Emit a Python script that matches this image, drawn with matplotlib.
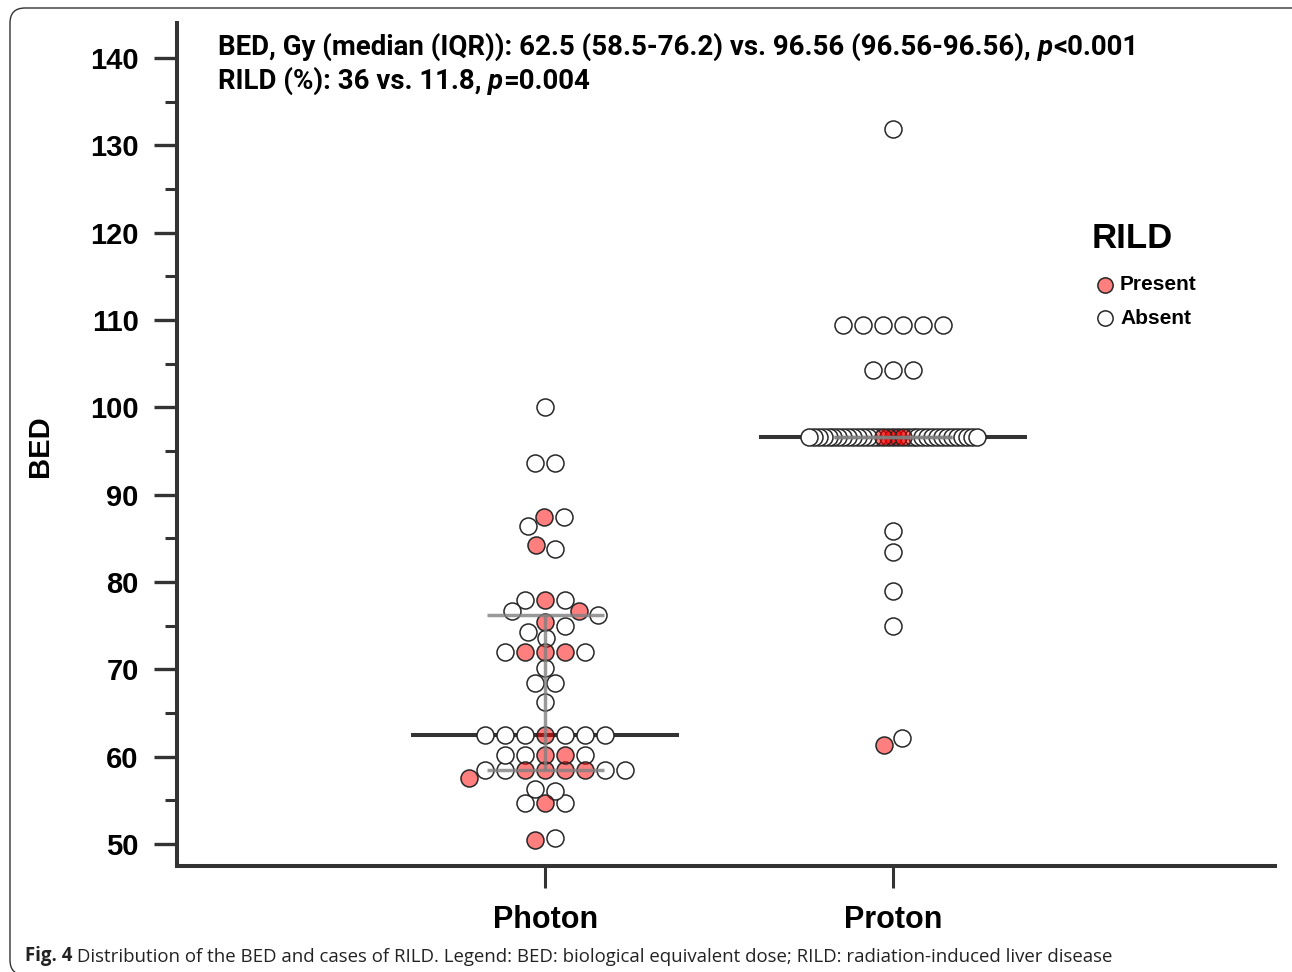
import numpy as np
import matplotlib
matplotlib.use("Agg")
import matplotlib.pyplot as plt
import matplotlib.patches as mpatches
from matplotlib.lines import Line2D
from matplotlib.ticker import MultipleLocator
from matplotlib.transforms import IdentityTransform

plt.rcParams['font.family'] = ['Liberation Sans', 'DejaVu Sans']

# ---- data ----
groups = ['Photon', 'Proton']

photon_present = [87.4, 84.3, 77.9, 76.7, 75.4, 72.0, 72.0, 72.0, 62.5, 60.2, 60.2,
                  58.5, 58.5, 58.5, 58.5, 57.6, 54.7, 50.5]
photon_absent = [100.0, 93.6, 93.6, 87.4, 86.4, 83.8, 77.9, 77.9, 76.7, 76.2, 75.0,
                 74.3, 73.6, 72.0, 72.0, 70.2, 68.5, 68.5, 66.3,
                 62.5, 62.5, 62.5, 62.5, 62.5, 62.5, 60.2, 60.2, 60.2,
                 58.5, 58.5, 58.5, 58.5, 56.1, 56.3, 54.7, 54.7, 50.7]

proton_present = [96.56] * 5 + [61.4]
proton_absent = ([131.9] + [109.4] * 6 + [104.3] * 3 + [96.56] * 30
                 + [85.8, 83.4, 79.0, 75.0, 62.1])

# median, q1, q3 (from the annotation)
medians = [62.5, 96.56]
q1 = [58.5, 96.56]
q3 = [76.2, 96.56]

stat_line1 = ["BED, Gy (median (IQR)): 62.5 (58.5-76.2) vs. 96.56 (96.56-96.56), ", "p", "<0.001"]
stat_line2 = ["RILD (%): 36 vs. 11.8, ", "p", "=0.004"]
legend_title = 'RILD'
legend_labels = ['Present', 'Absent']

RED = (1.0, 0.0, 0.0, 0.5)
WHITE = (1.0, 1.0, 1.0, 1.0)
EDGE = '#262626'
DARK = '#333333'

W, H = 1292, 972
fig = plt.figure(figsize=(W / 100, H / 100), dpi=100)
ax = fig.add_axes([177 / W, 1 - 866 / H, (1275 - 177) / W, (866 - 23) / H])
ax.set_xlim(-1.06, 2.10)
ax.set_ylim(47.5, 144)


def collides(c, y, xs, ys, dx_min, dy_min):
    for px, py in zip(xs, ys):
        if ((c - px) / dx_min) ** 2 + ((y - py) / dy_min) ** 2 < 1 - 1e-6:
            return True
    return False


def try_center(m, xoff, ypx, dx_min, dy_min):
    shift = -xoff[m].mean()
    if abs(shift) < 1e-6:
        return
    others = ~m
    new = xoff[m] + shift
    if not any(collides(c, y, xoff[others], ypx[others], dx_min, dy_min)
               for c, y in zip(new, ypx[m])):
        xoff[m] = new


def swarm(values, red, center, dx_min=20.0, dy_min=14.0, max_half_px=None):
    """greedy beeswarm in pixel space (elliptic spacing), returns x in data units"""
    vals = np.asarray(values, dtype=float)
    red = np.asarray(red, dtype=bool)
    ypx = ax.transData.transform(np.column_stack([np.full(len(vals), center), vals]))[:, 1]
    x_unit = ax.transData.transform([(1, 0)])[0, 0] - ax.transData.transform([(0, 0)])[0, 0]
    counts = np.array([np.sum(vals == v) for v in vals])
    order = np.lexsort((vals, ~red, -counts))
    xoff = np.full(len(vals), np.nan)
    done = []
    for i in order:
        xs = [xoff[j] for j in done]
        ys = [ypx[j] for j in done]
        cands = [0.0]
        for px, py in zip(xs, ys):
            t = 1 - ((ypx[i] - py) / dy_min) ** 2
            if t > 0:
                d = dx_min * np.sqrt(t)
                cands += [px + d, px - d]
        cands = sorted(cands, key=lambda c: (round(abs(c), 6), -c))
        for c in cands:
            if not collides(c, ypx[i], xs, ys, dx_min, dy_min):
                break
        xoff[i] = c
        done.append(i)
    # centre groups of tied values when there is room
    uniq = np.unique(vals)
    for v in uniq:
        try_center(vals == v, xoff, ypx, dx_min, dy_min)
    # centre small rows of nearly equal values
    clusters, cur = [], [uniq[0]]
    for a, b in zip(uniq[:-1], uniq[1:]):
        if b - a <= 1.0:
            cur.append(b)
        else:
            clusters.append(cur)
            cur = [b]
    clusters.append(cur)
    for cl in clusters:
        m = np.isin(vals, cl)
        if len(cl) > 1 and m.sum() <= 3:
            try_center(m, xoff, ypx, dx_min, dy_min)
    # squeeze groups of tied values that get too wide
    if max_half_px is not None:
        for v in uniq:
            m = vals == v
            span = np.abs(xoff[m]).max()
            if span > max_half_px:
                xoff[m] *= max_half_px / span
    return center + xoff / x_unit, order


data = [(photon_present, photon_absent), (proton_present, proton_absent)]
for k, (pres, absn) in enumerate(data):
    vals = np.array(pres + absn)
    red = np.array([True] * len(pres) + [False] * len(absn))
    xs, order = swarm(vals, red, k, max_half_px=84)
    white_order = [i for i in order if not red[i]]
    red_order = [i for i in order if red[i]]
    ax.scatter(xs[white_order], vals[white_order], s=150, facecolors=[WHITE],
               edgecolors=EDGE, linewidths=1.1, zorder=3)
    ax.scatter(xs[red_order], vals[red_order], s=150, facecolors=[RED],
               edgecolors=EDGE, linewidths=1.1, zorder=3)

    # median
    ax.plot([k - 0.386, k + 0.386], [medians[k], medians[k]], color=DARK,
            lw=2.9, zorder=2, solid_capstyle='butt')
    # IQR
    for yv in (q1[k], q3[k]):
        ax.plot([k - 0.169, k + 0.169], [yv, yv], color='#808080', lw=2.5,
                alpha=0.8, zorder=4, solid_capstyle='butt')
    ax.plot([k, k], [q1[k], q3[k]], color='#808080', lw=2.5, alpha=0.8,
            zorder=4, solid_capstyle='butt')

# axes styling
for s in ['top', 'right']:
    ax.spines[s].set_visible(False)
for s in ['left', 'bottom']:
    ax.spines[s].set_linewidth(2.9)
    ax.spines[s].set_color(DARK)

ax.set_yticks(np.arange(50, 141, 10))
ax.yaxis.set_minor_locator(MultipleLocator(5))
ax.tick_params(axis='y', which='major', length=16.5, width=2.4, color=DARK,
               pad=11, labelsize=21)
ax.tick_params(axis='y', which='minor', length=8.6, width=2.2, color=DARK)
ax.set_xticks([0, 1])
ax.set_xticklabels(groups)
ax.tick_params(axis='x', which='major', length=16, width=2.2, color=DARK,
               pad=12, labelsize=22)
for lab in ax.get_xticklabels() + ax.get_yticklabels():
    lab.set_fontweight('bold')

fig.text(40 / W, 1 - 446 / H, 'BED', rotation=90, fontsize=21,
         fontweight='bold', ha='center', va='center')

# annotation with italic p
cond = ['Roboto', 'DejaVu Sans']


def rich_line(pieces, x, y):
    prev = None
    for piece in pieces:
        style = 'italic' if piece == 'p' else 'normal'
        if prev is None:
            prev = fig.text(x, y, piece, fontsize=19.9, fontweight='bold',
                            family=cond, style=style, va='bottom', ha='left')
        else:
            prev = ax.annotate(piece, xy=(1, 0), xycoords=prev, va='bottom',
                               ha='left', fontsize=19.9, fontweight='bold',
                               family=cond, style=style,
                               annotation_clip=False)


rich_line(stat_line1, 218 / W, 1 - 61 / H)
rich_line(stat_line2, 218 / W, 1 - 95 / H)

# legend, laid out by hand
fig.text(1092 / W, 1 - 238 / H, legend_title, fontsize=25, fontweight='bold',
         va='center', ha='left')
for j, (lab, fc) in enumerate(zip(legend_labels, [RED, WHITE])):
    yy = 1 - (285 + 33 * j) / H
    fig.add_artist(Line2D([1105 / W], [yy], marker='o', ls='', markersize=11,
                          markerfacecolor=fc, markeredgecolor=EDGE,
                          markeredgewidth=1.1, transform=fig.transFigure))
    fig.text(1120 / W, yy, lab, fontsize=15, fontweight='bold', va='center',
             ha='left')

# caption
cap = fig.text(25 / W, 1 - 961 / H, 'Fig. 4', fontsize=13.4, fontweight='bold',
               family=['Open Sans', 'DejaVu Sans'], color='#222222', va='baseline')
ax.annotate(' Distribution of the BED and cases of RILD. Legend: BED: biological '
            'equivalent dose; RILD: radiation-induced liver disease',
            xy=(1, 0), xycoords=cap, va='bottom', ha='left', fontsize=13.4,
            family=['Open Sans', 'DejaVu Sans'], color='#222222',
            annotation_clip=False)

# rounded frame around the figure (right edge falls outside the picture)
frame = mpatches.FancyBboxPatch((10, -3), 1340, H - 8 + 3,
                                boxstyle='round,pad=0,rounding_size=15',
                                transform=IdentityTransform(), fill=False,
                                ec='#333333', lw=1.0)
fig.patches.append(frame)

fig.savefig('out.png', dpi=100)
